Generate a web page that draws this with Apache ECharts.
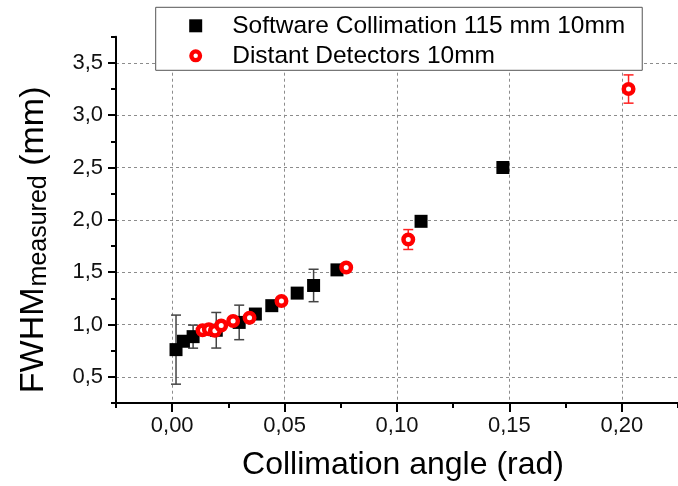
<!DOCTYPE html>
<html>
<head>
<meta charset="utf-8">
<style>
  html, body { margin: 0; padding: 0; background: #ffffff; }
  #chart { width: 678px; height: 486px; }
</style>
<script src="https://cdn.jsdelivr.net/npm/echarts@6/dist/echarts.min.js"></script>
</head>
<body>
<div id="chart"></div>
<script>
// Software collimation, 115 mm, 10 mm source
const softAngle = [0.0017, 0.0050, 0.0093, 0.0196, 0.0298, 0.0370, 0.0443, 0.0556, 0.0629, 0.0733, 0.1107, 0.1471];
const softFwhm  = [0.760, 0.840, 0.884, 0.945, 1.020, 1.100, 1.180, 1.300, 1.373, 1.522, 1.986, 2.500];
const softErr   = [0.330, 0, 0.110, 0.170, 0.165, 0, 0, 0, 0.155, 0, 0, 0];

// Distant detectors, 10 mm source
const distAngle = [0.0135, 0.0163, 0.0190, 0.0218, 0.0271, 0.0344, 0.0486, 0.0774, 0.1050, 0.2030];
const distFwhm  = [0.945, 0.955, 0.940, 0.990, 1.033, 1.064, 1.225, 1.544, 1.812, 3.250];
const distErr   = [0, 0, 0, 0, 0, 0, 0, 0, 0.095, 0.135];

// Axis ticks
const xMajor = [0.00, 0.05, 0.10, 0.15, 0.20];
const xMinor = [-0.025, 0.025, 0.075, 0.125, 0.175, 0.225];
const yMajor = [0.5, 1.0, 1.5, 2.0, 2.5, 3.0, 3.5];
const yMinor = [0.25, 0.75, 1.25, 1.75, 2.25, 2.75, 3.25, 3.75];

const seriesNames = ['Software Collimation 115 mm 10mm', 'Distant Detectors 10mm'];

const FONT = '"Liberation Sans", Arial, sans-serif';

function pointsOf(xs, ys) { return xs.map((x, i) => [x, ys[i]]); }
function barsOf(xs, ys, es) {
  return xs.map((x, i) => [x, ys[i], es[i]]).filter(d => d[2] > 0);
}

function errorBarRenderer(color) {
  return function (params, api) {
    const x = api.value(0), y = api.value(1), e = api.value(2);
    const top = api.coord([x, y + e]);
    const bot = api.coord([x, y - e]);
    const hw = 5;
    const style = { stroke: color, lineWidth: 1.5 };
    return {
      type: 'group',
      children: [
        { type: 'line', shape: { x1: top[0], y1: top[1], x2: bot[0], y2: bot[1] }, style },
        { type: 'line', shape: { x1: top[0] - hw, y1: top[1], x2: top[0] + hw, y2: top[1] }, style },
        { type: 'line', shape: { x1: bot[0] - hw, y1: bot[1], x2: bot[0] + hw, y2: bot[1] }, style }
      ]
    };
  };
}

const gridDash = { color: '#8c8c8c', width: 1, type: [3, 3] };
const hiddenLine = { show: true, onZero: false, lineStyle: { color: 'rgba(0,0,0,0)', width: 0 } };
const ringIcon = 'path://M7,0A7,7,0,1,1,7,14A7,7,0,1,1,7,0ZM7,4.6A2.4,2.4,0,1,0,7,9.4A2.4,2.4,0,1,0,7,4.6Z';
const squareIcon = 'path://M0,0L10,0L10,10L0,10Z';

const chart = echarts.init(document.getElementById('chart'), null, { renderer: 'canvas' });

chart.setOption({
  animation: false,
  backgroundColor: '#ffffff',
  textStyle: { fontFamily: FONT, color: '#000' },
  grid: { left: 114, right: -10, top: 36.7, bottom: 79.5, containLabel: false },
  legend: {
    orient: 'vertical',
    left: 155.7,
    top: 7.3,
    padding: [6, 17, 2, 33.5],
    itemGap: 5,
    itemWidth: 13,
    itemHeight: 13,
    backgroundColor: '#ffffff',
    borderColor: '#555555',
    borderWidth: 1,
    z: 10,
    textStyle: { fontFamily: FONT, fontSize: 24.5, color: '#000', lineHeight: 24, padding: [0, 0, 0, 25] },
    data: [
      { name: seriesNames[0], icon: squareIcon, itemStyle: { color: '#000', borderWidth: 0 } },
      { name: seriesNames[1], icon: ringIcon, itemStyle: { color: '#ff0000', borderWidth: 0 } }
    ]
  },
  xAxis: [
    {
      type: 'value',
      min: -0.025, max: 0.225, interval: 0.025,
      name: 'Collimation angle (rad)',
      nameLocation: 'middle',
      nameGap: 46,
      nameTextStyle: { fontFamily: FONT, fontSize: 32, color: '#000', padding: [0, 0, 0, 12] },
      axisLine: { show: true, onZero: false, lineStyle: { color: '#000', width: 2 } },
      axisTick: { show: true, inside: false, length: 9, customValues: xMajor, lineStyle: { color: '#000', width: 2 } },
      axisLabel: {
        customValues: xMajor, margin: 12, fontFamily: FONT, fontSize: 22, color: '#111',
        formatter: v => v.toFixed(2).replace('.', ',')
      },
      splitLine: { show: true, lineStyle: gridDash }
    },
    {
      type: 'value', position: 'bottom',
      min: -0.025, max: 0.225, interval: 0.025,
      axisLine: hiddenLine,
      axisTick: { show: true, inside: false, length: 5, customValues: xMinor, lineStyle: { color: '#000', width: 2 } },
      axisLabel: { show: false },
      splitLine: { show: false }
    }
  ],
  yAxis: [
    {
      type: 'value',
      min: 0.25, max: 3.75, interval: 0.25,
      name: '{big|FWHM}{sub|measured}{end| (mm)}',
      nameLocation: 'middle',
      nameGap: 64,
      nameTextStyle: {
        fontFamily: FONT, color: '#000',
        rich: {
          big: { fontFamily: FONT, fontSize: 34, lineHeight: 35, verticalAlign: 'top', color: '#000' },
          end: { fontFamily: FONT, fontSize: 34, lineHeight: 35, verticalAlign: 'top', color: '#000', padding: [0, 40, 0, 0] },
          sub: { fontFamily: FONT, fontSize: 25, lineHeight: 25, verticalAlign: 'bottom', padding: [19, 0, 0, 1], color: '#000' }
        }
      },
      axisLine: { show: true, onZero: false, lineStyle: { color: '#000', width: 2 } },
      axisTick: { show: true, inside: false, length: 8, customValues: yMajor, lineStyle: { color: '#000', width: 2 } },
      axisLabel: {
        customValues: yMajor, margin: 13, fontFamily: FONT, fontSize: 22, color: '#111',
        formatter: v => v.toFixed(1).replace('.', ',')
      },
      splitLine: { show: true, lineStyle: gridDash }
    },
    {
      type: 'value', position: 'left',
      min: 0.25, max: 3.75, interval: 0.25,
      axisLine: hiddenLine,
      axisTick: { show: true, inside: false, length: 5, customValues: yMinor, lineStyle: { color: '#000', width: 2 } },
      axisLabel: { show: false },
      splitLine: { show: false }
    }
  ],
  series: [
    {
      type: 'custom',
      name: 'softErr',
      xAxisIndex: 0, yAxisIndex: 0,
      renderItem: errorBarRenderer('#444'),
      data: barsOf(softAngle, softFwhm, softErr),
      encode: { x: 0, y: 1 },
      z: 2, silent: true
    },
    {
      type: 'scatter',
      name: seriesNames[0],
      xAxisIndex: 0, yAxisIndex: 0,
      symbol: 'rect',
      symbolSize: 13,
      itemStyle: { color: '#000', opacity: 1 },
      data: pointsOf(softAngle, softFwhm),
      z: 3
    },
    {
      type: 'custom',
      name: 'distErr',
      xAxisIndex: 0, yAxisIndex: 0,
      renderItem: errorBarRenderer('#ff2020'),
      data: barsOf(distAngle, distFwhm, distErr),
      encode: { x: 0, y: 1 },
      z: 4, silent: true
    },
    {
      type: 'scatter',
      name: seriesNames[1],
      xAxisIndex: 0, yAxisIndex: 0,
      symbol: 'circle',
      symbolSize: 9.5,
      itemStyle: { color: '#ffffff', borderColor: '#ff0000', borderWidth: 4.5, opacity: 1 },
      data: pointsOf(distAngle, distFwhm),
      z: 5
    }
  ]
});
</script>
</body>
</html>
